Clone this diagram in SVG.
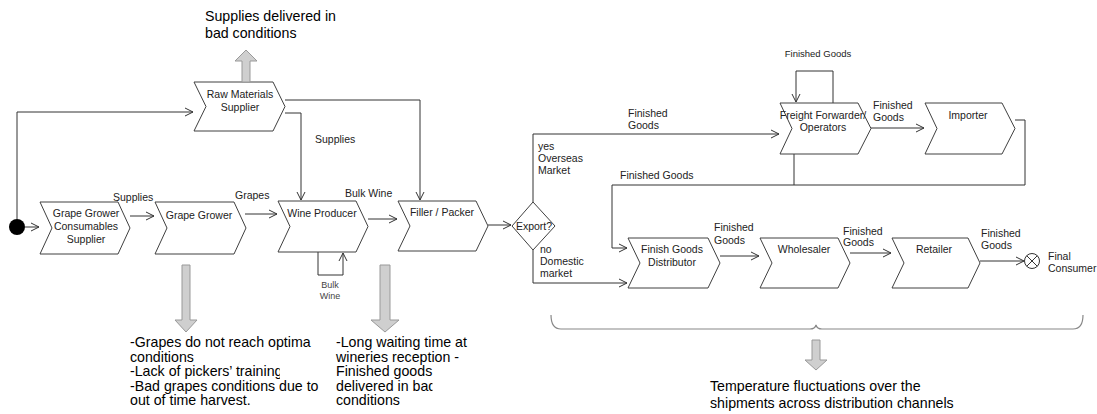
<svg xmlns="http://www.w3.org/2000/svg" width="1097" height="414" viewBox="0 0 1097 414">
  <defs>
    <marker id="open" markerUnits="userSpaceOnUse" markerWidth="10" markerHeight="9" refX="8" refY="4" orient="auto" overflow="visible">
      <path d="M0,0 L8,4 L0,8" fill="none" stroke="#333" stroke-width="1"/>
    </marker>
    <clipPath id="cut-training"><rect x="0" y="0" width="280" height="414"/></clipPath>
    <clipPath id="cut-bad"><rect x="0" y="0" width="432.5" height="414"/></clipPath>
  </defs>
  <style>
    .step { fill: #fff; stroke: #404040; stroke-width: 1; }
    .lbl { font-family: "Liberation Sans", Arial, sans-serif; font-size: 10.5px; fill: #222; }
    .mid { text-anchor: middle; }
    .sm { font-size: 9.5px; }
    .xs { font-size: 9px; fill: #444; }
    .note { font-family: "Liberation Sans", Arial, sans-serif; font-size: 14.2px; fill: #000; }
    .wire { fill: none; stroke: #333; stroke-width: 1; }
    .arw { marker-end: url(#open); }
    .block { fill: #cfcfcf; stroke: #999; stroke-width: 1; }
    .brace { fill: none; stroke: #888; stroke-width: 1.2; }
  </style>
  <rect width="1097" height="414" fill="#fff"/>

  <!-- connectors -->
  <g id="connectors">
    <circle cx="17" cy="227" r="8" fill="#000"/>
    <path class="wire arw" d="M25,227 H39"/>
    <path class="wire arw" d="M17,219 V112 H193"/>
    <path class="wire arw" d="M130,216 H154"/>
    <path class="wire arw" d="M245,214 H277"/>
    <path class="wire arw" d="M368,219 H397"/>
    <path class="wire arw" d="M285,100 H420 V200"/>
    <path class="wire arw" d="M285,113 H301 V200"/>
    <path class="wire arw" d="M318,252 V275 H343 V253"/>
    <path class="wire arw" d="M488,225 H511"/>
    <path class="wire arw" d="M533,202 V134 H779"/>
    <path class="wire arw" d="M533,250 V283 H627"/>
    <path class="wire arw" d="M833,103 V71 H796 V102"/>
    <path class="wire arw" d="M871,128 H924"/>
    <path class="wire arw" d="M1015,120 H1025 V185 H612 V248 H627"/>
    <path class="wire" d="M794,154 V185"/>
    <path class="wire arw" d="M720,256 H759"/>
    <path class="wire arw" d="M850,253 H891"/>
    <path class="wire arw" d="M980,261 H1024"/>

    <text class="lbl" x="113" y="201">Supplies</text>
    <text class="lbl" x="235" y="199">Grapes</text>
    <text class="lbl" x="345" y="197">Bulk Wine</text>
    <text class="lbl" x="315" y="143">Supplies</text>
    <text class="lbl xs mid" x="330" y="288">Bulk</text>
    <text class="lbl xs mid" x="330" y="299">Wine</text>
    <text class="lbl" x="628" y="117">Finished</text>
    <text class="lbl" x="628" y="129">Goods</text>
    <text class="lbl" x="538" y="150">yes</text>
    <text class="lbl" x="538" y="162">Overseas</text>
    <text class="lbl" x="538" y="174">Market</text>
    <text class="lbl" x="620" y="179">Finished Goods</text>
    <text class="lbl" x="540" y="253">no</text>
    <text class="lbl" x="540" y="265">Domestic</text>
    <text class="lbl" x="540" y="277">market</text>
    <text class="lbl sm mid" x="818" y="57">Finished Goods</text>
    <text class="lbl" x="873" y="109">Finished</text>
    <text class="lbl" x="873" y="121">Goods</text>
    <text class="lbl" x="714" y="231">Finished</text>
    <text class="lbl" x="714" y="244">Goods</text>
    <text class="lbl" x="843" y="235">Finished</text>
    <text class="lbl" x="843" y="246">Goods</text>
    <text class="lbl" x="981" y="237">Finished</text>
    <text class="lbl" x="981" y="249">Goods</text>
  </g>

  <!-- process steps -->
  <g id="raw-materials-supplier">
    <path class="step" d="M194,82 H273 L285,106.5 L273,131 H194 L206,106.5 Z"/>
    <text class="lbl mid" x="240" y="98">Raw Materials</text>
    <text class="lbl mid" x="240" y="111">Supplier</text>
  </g>
  <g id="grape-grower-consumables-supplier">
    <path class="step" d="M40,202 H118 L130,228 L118,254 H40 L52,228 Z"/>
    <text class="lbl mid" x="86" y="217">Grape Grower</text>
    <text class="lbl mid" x="86" y="230">Consumables</text>
    <text class="lbl mid" x="86" y="243">Supplier</text>
  </g>
  <g id="grape-grower">
    <path class="step" d="M155,202 H234 L246,228 L234,254 H155 L167,228 Z"/>
    <text class="lbl mid" x="199" y="219">Grape Grower</text>
  </g>
  <g id="wine-producer">
    <path class="step" d="M278,201 H356 L368,226.5 L356,252 H278 L290,226.5 Z"/>
    <text class="lbl mid" x="322" y="217">Wine Producer</text>
  </g>
  <g id="filler-packer">
    <path class="step" d="M398,201 H476 L488,226 L476,251 H398 L410,226 Z"/>
    <text class="lbl mid" x="442" y="216">Filler / Packer</text>
  </g>
  <g id="export-decision">
    <path class="step" d="M533,202 L555,226 L533,250 L512,226 Z"/>
    <text class="lbl mid" x="534" y="230">Export?</text>
  </g>
  <g id="freight-forwarder">
    <path class="step" d="M780,103 H858 L871,128.5 L858,154 H780 L792,128.5 Z"/>
    <text class="lbl mid" x="823" y="119">Freight Forwarder/</text>
    <text class="lbl mid" x="823" y="131">Operators</text>
  </g>
  <g id="importer">
    <path class="step" d="M925,103 H1002 L1015,128.5 L1002,154 H925 L937,128.5 Z"/>
    <text class="lbl mid" x="968" y="119">Importer</text>
  </g>
  <g id="finish-goods-distributor">
    <path class="step" d="M628,238 H708 L720,263 L708,288 H628 L640,263 Z"/>
    <text class="lbl mid" x="672" y="253">Finish Goods</text>
    <text class="lbl mid" x="672" y="266">Distributor</text>
  </g>
  <g id="wholesaler">
    <path class="step" d="M760,238 H838 L850,263 L838,288 H760 L772,263 Z"/>
    <text class="lbl mid" x="804" y="253">Wholesaler</text>
  </g>
  <g id="retailer">
    <path class="step" d="M892,238 H968 L980,263 L968,288 H892 L904,263 Z"/>
    <text class="lbl mid" x="934" y="253">Retailer</text>
  </g>
  <g id="final-consumer">
    <circle cx="1032" cy="261" r="7.5" fill="#fff" stroke="#333"/>
    <path d="M1026.7,255.7 L1037.3,266.3 M1037.3,255.7 L1026.7,266.3" stroke="#333" fill="none"/>
    <text class="lbl" x="1048" y="260">Final</text>
    <text class="lbl" x="1048" y="272">Consumer</text>
  </g>

  <!-- risk call-outs -->
  <g id="risk-supplies">
    <path class="block" d="M242,82 H250 V61 H257 L246,50 L235,61 H242 Z"/>
    <text class="note" x="205" y="20.5">Supplies delivered in</text>
    <text class="note" x="205" y="37.5">bad conditions</text>
  </g>
  <g id="risk-grapes">
    <path class="block" d="M182,265 H190 V320 H197 L186,332 L175,320 H182 Z"/>
    <text class="note" x="130" y="347">-Grapes do not reach optima</text>
    <text class="note" x="130" y="361.5">conditions</text>
    <text class="note" x="130" y="376" clip-path="url(#cut-training)">-Lack of pickers’ training</text>
    <text class="note" x="130" y="390.5">-Bad grapes conditions due to</text>
    <text class="note" x="130" y="405">out of time harvest.</text>
  </g>
  <g id="risk-winery">
    <path class="block" d="M380,265 H390 V320 H399 L385,332 L371,320 H380 Z"/>
    <text class="note" x="336" y="347">-Long waiting time at</text>
    <text class="note" x="336" y="361.5">wineries reception -</text>
    <text class="note" x="336" y="376">Finished goods</text>
    <text class="note" x="336" y="390.5" clip-path="url(#cut-bad)">delivered in bad</text>
    <text class="note" x="336" y="405">conditions</text>
  </g>
  <g id="risk-distribution">
    <path class="brace" d="M551,315 Q551,329 561,329 H810 Q815,329 816,325 Q817,329 822,329 H1073 Q1083,329 1083,315"/>
    <path class="block" d="M812,340 H820 V360 H827 L816,370 L805,360 H812 Z"/>
    <text class="note" x="710" y="391">Temperature fluctuations over the</text>
    <text class="note" x="710" y="407.5">shipments across distribution channels</text>
  </g>
</svg>
